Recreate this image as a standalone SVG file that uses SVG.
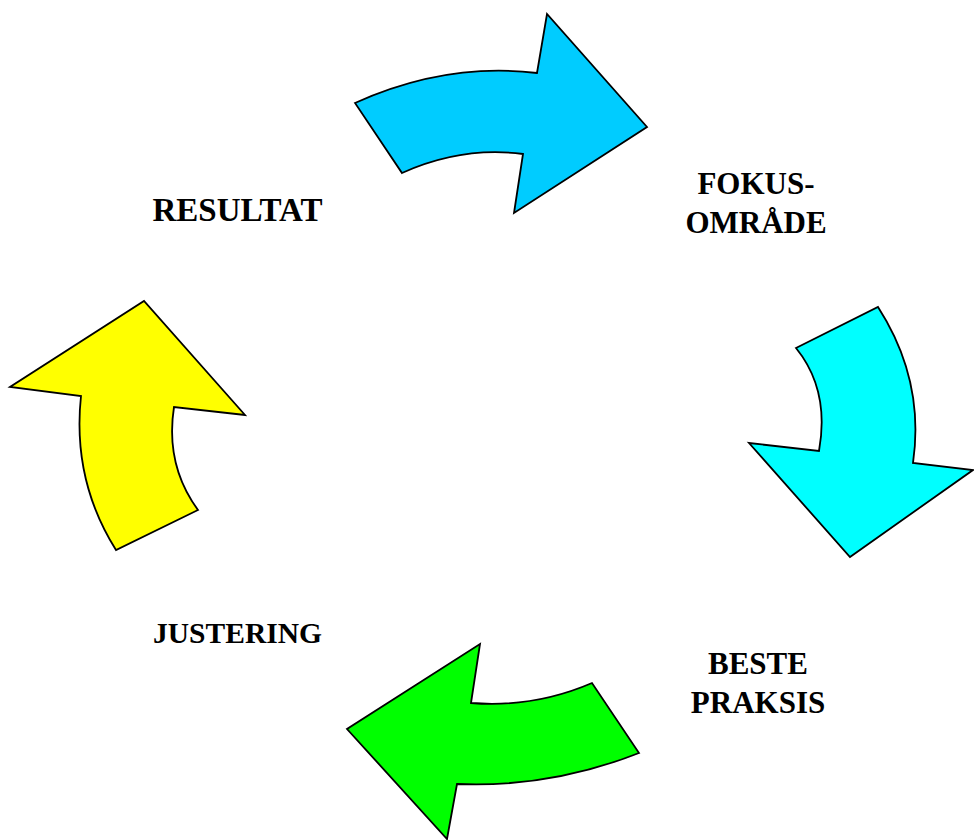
<svg xmlns="http://www.w3.org/2000/svg" width="974" height="840" viewBox="0 0 974 840">
<style>
.arr{stroke:#000;stroke-width:1.8;stroke-linejoin:miter}
.lbl{font-family:"Liberation Serif","Times New Roman",serif;font-weight:bold;font-size:31px;fill:#000;text-anchor:middle}
</style>
<rect width="974" height="840" fill="#fff"/>
<g id="connectors">
<path id="arrow-top" class="arr" fill="#00CCFF" d="M355,103 Q446,62 537,73 L547,14 L647,127 L514,213 L523,154 Q462,146 402,173 Z"/>
<path id="arrow-right" class="arr" fill="#00FFFF" d="M878,307 Q925,380 913,463 L973,470 L850,557 L749,443 L819,451 Q830,390 796,348 Z"/>
<path id="arrow-bottom" class="arr" fill="#00FF00" d="M592,683 Q534,708 471,703 L480,644 L347,729 L447,839 L457,784 Q550,788 639,753 Z"/>
<path id="arrow-left" class="arr" fill="#FFFF00" d="M116,550 Q72,480 81,396 L10,387 L144,301 L245,415 L174,407 Q165,465 198,510 Z"/>
</g>
<g id="resultat"><text class="lbl" x="237.5" y="221" style="font-size:33px">RESULTAT</text></g>
<g id="fokusomrade"><text class="lbl" x="756" y="194">FOKUS-</text><text class="lbl" x="756" y="233">OMRÅDE</text></g>
<g id="beste-praksis"><text class="lbl" x="758" y="674">BESTE</text><text class="lbl" x="758" y="713">PRAKSIS</text></g>
<g id="justering"><text class="lbl" x="237.5" y="643" style="font-size:29.5px">JUSTERING</text></g>
</svg>
